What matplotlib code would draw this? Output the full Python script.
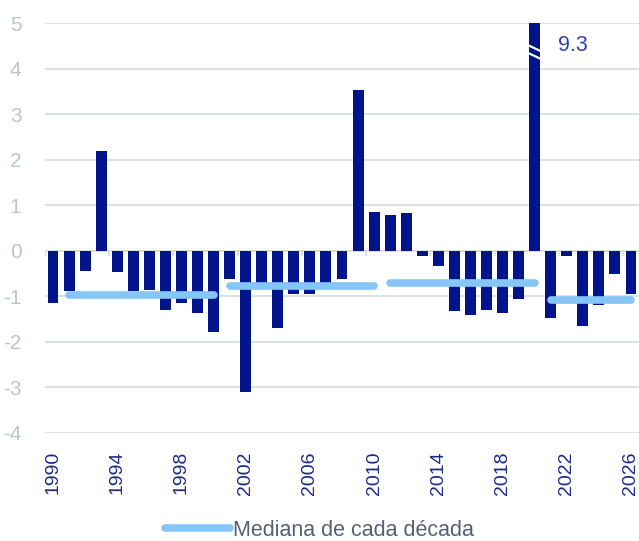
import numpy as np
import matplotlib.pyplot as plt

plt.rcParams['font.family'] = ['Liberation Sans', 'DejaVu Sans']
plt.rcParams['axes.unicode_minus'] = False

years = list(range(1990, 2027))
values = [-1.14, -0.89, -0.44, 2.2, -0.47, -0.89, -0.86, -1.31, -1.14, -1.37,
          -1.79, -0.63, -3.11, -0.74, -1.70, -0.95, -0.95, -0.76, -0.63, 3.52,
          0.85, 0.78, 0.82, -0.11, -0.33, -1.33, -1.40, -1.31, -1.37, -1.05,
          9.3, -1.47, -0.11, -1.66, -1.20, -0.52, -0.95]
# median per decade: (first year, last year, value)
dec_start = [1991, 2001, 2011, 2021]
dec_end = [2000, 2010, 2020, 2026]
dec_median = [-0.97, -0.78, -0.71, -1.07]
tick_years = list(range(1990, 2027, 4))

y_max = 5
y_min = -4
bar_col = '#00148C'
med_col = '#85C5F7'

fig = plt.figure(figsize=(6.39, 5.41), dpi=100)
ax = fig.add_axes([45/639, 108/541, 594/639, 410/541])

x = np.arange(len(years))
clipped = np.minimum(values, y_max)
ax.bar(x, clipped, width=0.68, color=bar_col, zorder=2)

# break mark and label on the out-of-range bar
for i, v in enumerate(values):
    if v > y_max:
        for off in (0.0, 0.17):
            ax.plot([i - 0.45, i + 0.45], [y_max - 0.48 - off, y_max - 0.63 - off],
                    color='white', lw=1.6, zorder=3, solid_capstyle='butt')
        ax.text(i + 1.45, y_max - 0.5, f'{v:.1f}', color='#3344A8', fontsize=15.5,
                ha='left', va='center')

for s, e, m in zip(dec_start, dec_end, dec_median):
    i0 = years.index(s)
    i1 = years.index(e)
    ax.plot([i0, i1], [m, m], color=med_col, lw=5.5,
            solid_capstyle='round', zorder=4, clip_on=False)

ax.set_xlim(-0.5, len(years) - 0.5)
ax.set_ylim(y_min, y_max)
ax.set_yticks(range(y_min, y_max + 1))
ax.yaxis.grid(True, color='#D3D8DF', lw=1.1, zorder=0)
ax.set_axisbelow(True)
for sp in ax.spines.values():
    sp.set_visible(False)

# small tick marks on the zero line every 4 categories
ax.vlines(np.arange(-0.5, len(years), 4), -0.12, 0, color='#D3D8DF', lw=1.1, zorder=1)

ax.set_xticks([years.index(t) for t in tick_years])
ax.set_xticklabels([str(t) for t in tick_years], rotation=90, va='top', ha='center')
ax.tick_params(axis='x', length=0, pad=13, labelsize=14, labelcolor='#1B2A8A')
ax.tick_params(axis='y', length=0, pad=17, labelsize=15, labelcolor='#BCC4CE')

line_handle, = ax.plot([], [], color=med_col, lw=5.5, solid_capstyle='round')
fig.legend([line_handle], ['Mediana de cada década'], loc='center',
           bbox_to_anchor=(0.5, 11/541), frameon=False, fontsize=15.5,
           handlelength=3.0, handletextpad=0.15, labelcolor='#596070')

fig.savefig('out.png', dpi=100)
